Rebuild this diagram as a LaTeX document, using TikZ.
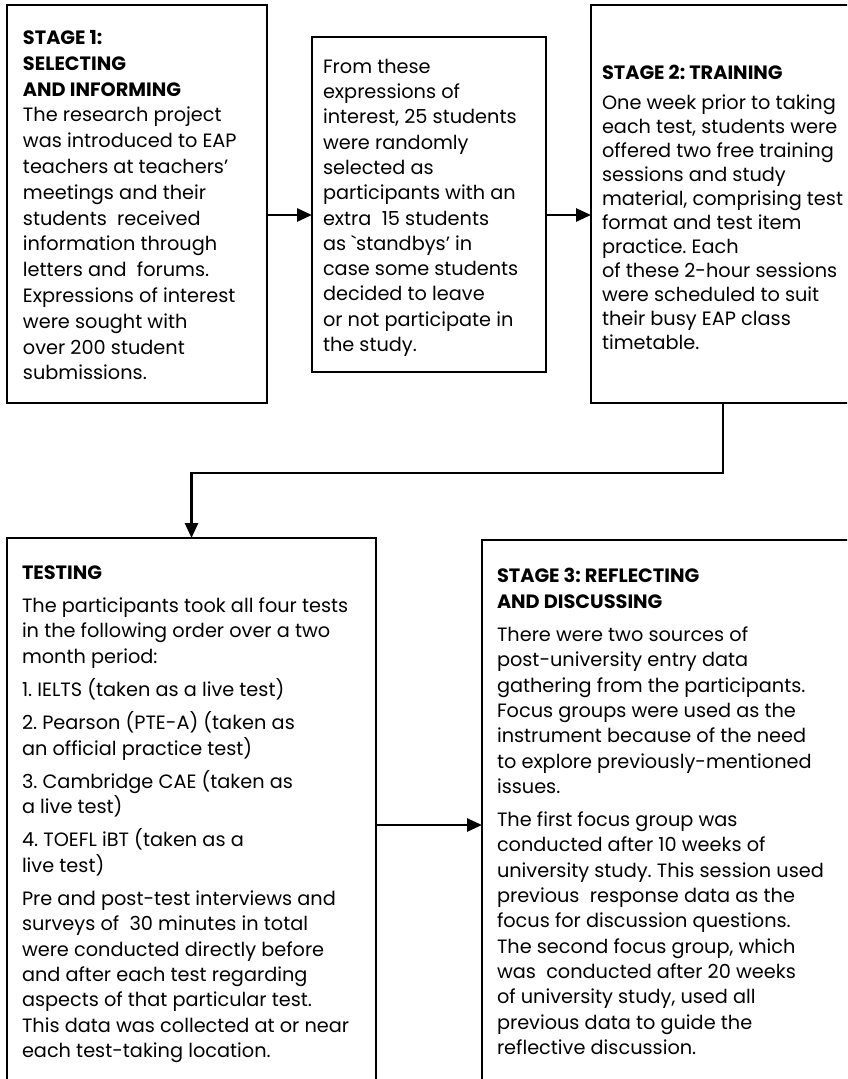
\documentclass[tikz,border=0pt]{standalone}
\usepackage{fontspec}
\setmainfont{Poppins}
\usetikzlibrary{arrows.meta}

\newcommand{\stagetext}[3]{\begin{minipage}[t][#2][t]{#1}\raggedright\frenchspacing #3\end{minipage}}

\begin{document}
\begin{tikzpicture}[x=1pt,y=-1pt,
		stagebox/.style={draw, line width=1.3pt, anchor=north west, outer sep=0pt,
			inner xsep=#1, font=\fontsize{19.3}{25.3}\selectfont},
		stagebox/.default=15pt,
		link/.style={line width=2.6pt, -{Triangle[length=15pt,width=13pt]}}]
	\clip (0,0) rectangle (847,1079);

	% top row
	\node[stagebox=16pt, inner ysep=25.5pt, font=\fontsize{19.3}{25.8}\selectfont] (sel) at (7,5)
		{\stagetext{228pt}{347pt}{\textbf{STAGE 1:}\\ \textbf{SELECTING}\\ \textbf{AND INFORMING}\\
		The research project\\ was introduced to EAP\\ teachers at teachers’\\ meetings and their\\
		students~ received\\ information through\\ letters and~ forums.\\ Expressions of interest\\
		were sought with\\ over 200 student\\ submissions.}};

	\node[stagebox=11pt, inner ysep=22pt] (pick) at (312,37)
		{\stagetext{212pt}{291pt}{From these\\ expressions of\\ interest, 25 students\\ were randomly\\
		selected as\\ participants with an\\ extra~ 15 students\\ as \textasciigrave standbys’ in\\
		case some students\\ decided to leave\\ or not participate in\\ the study.}};

	\node[stagebox=11pt, inner ysep=60.5pt, font=\fontsize{19.3}{24}\selectfont] (train) at (591,5)
		{\stagetext{242pt}{277pt}{\textbf{STAGE 2: TRAINING}\\[6pt]
		One week prior to taking\\ each test, students were\\ offered two free training\\
		sessions and study\\ material, comprising test\\ format and test item\\ practice. Each\\
		of these 2-hour sessions\\ were scheduled to suit\\ their busy EAP class\\ timetable.}};

	% bottom row
	\node[stagebox, inner ysep=27.5pt] (testing) at (7,538)
		{\stagetext{339pt}{505pt}{\textbf{TESTING}\\[8pt]
		The participants took all four tests\\ in the following order over a two\\ month period:\\[8pt]
		1. IELTS (taken as a live test)\\[8pt]
		2. Pearson (PTE-A) (taken as\\ an official practice test)\\[8pt]
		3. Cambridge CAE (taken as\\ a live test)\\[8pt]
		4. TOEFL iBT (taken as a\\ live test)\\[8pt]
		Pre and post-test interviews and\\ surveys of~ 30 minutes in total\\
		were conducted directly before\\ and after each test regarding\\
		aspects of that particular test.\\ This data was collected at or near\\
		each test-taking location.}};

	\node[stagebox, inner ysep=28.5pt] (reflect) at (482,540)
		{\stagetext{339pt}{503pt}{\textbf{STAGE 3: REFLECTING}\\ \textbf{AND DISCUSSING}\\[8pt]
		There were two sources of\\ post-university entry data\\ gathering from the participants.\\
		Focus groups were used as the\\ instrument because of the need\\
		to explore previously-mentioned\\ issues.\\[8pt]
		The first focus group was\\ conducted after 10 weeks of\\ university study. This session used\\
		previous~ response data as the\\ focus for discussion questions.\\
		The second focus group, which\\ was~ conducted after 20 weeks\\ of university study, used all\\
		previous data to guide the\\ reflective discussion.}};

	% connectors
	\coordinate (rowA) at (0,215);
	\coordinate (turn) at (0,473);
	\coordinate (rowB) at (0,825);
	\draw[link] (sel.east |- rowA) -- (pick.west |- rowA);
	\draw[link] (pick.east |- rowA) -- (train.west |- rowA);
	\draw[link] (train.south) -- (train.south |- turn) -| (testing.north);
	\draw[link] (testing.east |- rowB) -- (reflect.west |- rowB);
\end{tikzpicture}
\end{document}
